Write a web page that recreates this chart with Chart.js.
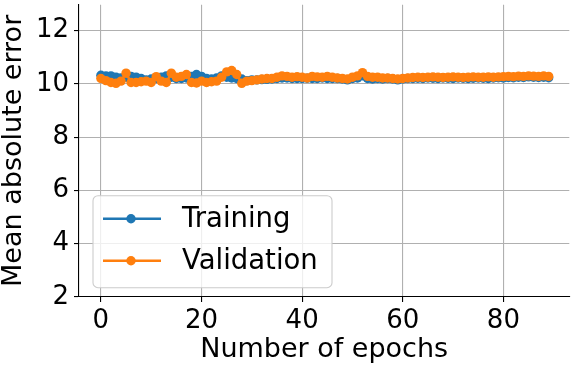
<!DOCTYPE html>
<html>
<head>
<meta charset="utf-8">
<script src="https://cdn.jsdelivr.net/npm/chart.js@4.4.0/dist/chart.umd.min.js"></script>
<style>
html,body{margin:0;padding:0;background:#fff;overflow:hidden;}
#wrap{width:574px;height:368px;position:relative;}
</style>
</head>
<body>
<div id="wrap"><canvas id="c" width="574" height="368"></canvas></div>
<script>
const epochs = Array.from({length: 90}, (_, i) => i);
const training = [
  10.32, 10.30, 10.30, 10.25, 10.22, 10.25, 10.28, 10.25, 10.20, 10.15,
  10.18, 10.20, 10.25, 10.30, 10.25, 10.20, 10.20, 10.22, 10.28, 10.35,
  10.28, 10.20, 10.18, 10.22, 10.30, 10.25, 10.22, 10.20, 10.18, 10.12,
  10.15, 10.15, 10.16, 10.17, 10.18, 10.20, 10.22, 10.22, 10.20, 10.20,
  10.20, 10.21, 10.20, 10.20, 10.22, 10.20, 10.20, 10.20, 10.18, 10.15,
  10.20, 10.22, 10.30, 10.20, 10.18, 10.20, 10.18, 10.20, 10.18, 10.15,
  10.18, 10.20, 10.20, 10.21, 10.20, 10.22, 10.21, 10.20, 10.22, 10.21,
  10.20, 10.22, 10.21, 10.20, 10.21, 10.22, 10.21, 10.20, 10.22, 10.23,
  10.22, 10.24, 10.23, 10.25, 10.24, 10.26, 10.25, 10.24, 10.25, 10.23
];
const validation = [
  10.20, 10.12, 10.05, 10.02, 10.10, 10.40, 10.05, 10.05, 10.08, 10.10,
  10.05, 10.27, 10.10, 10.05, 10.40, 10.25, 10.28, 10.35, 10.05, 10.03,
  10.10, 10.05, 10.08, 10.10, 10.25, 10.45, 10.50, 10.35, 10.02, 10.10,
  10.12, 10.15, 10.18, 10.20, 10.20, 10.25, 10.30, 10.28, 10.25, 10.27,
  10.25, 10.22, 10.28, 10.26, 10.25, 10.28, 10.25, 10.22, 10.20, 10.18,
  10.25, 10.30, 10.42, 10.28, 10.25, 10.25, 10.22, 10.22, 10.20, 10.18,
  10.20, 10.22, 10.24, 10.25, 10.24, 10.25, 10.26, 10.25, 10.24, 10.25,
  10.26, 10.25, 10.24, 10.25, 10.26, 10.25, 10.25, 10.26, 10.25, 10.26,
  10.27, 10.28, 10.27, 10.29, 10.28, 10.30, 10.29, 10.28, 10.30, 10.28
];
const xTicks = [0, 20, 40, 60, 80];
const yTicks = [2, 4, 6, 8, 10, 12];
const seriesNames = ['Training', 'Validation'];
const seriesColors = ['#1f77b4', '#ff7f0e'];

const FONT = 'DejaVu Sans';

const legendPlugin = {
  id: 'mplLegend',
  afterDraw(chart) {
    const ctx = chart.ctx;
    const a = chart.chartArea;
    const x0 = a.left + 14, y0 = a.top + 191, w = 239, h = 92, r = 5;
    ctx.save();
    ctx.beginPath();
    ctx.moveTo(x0 + r, y0);
    ctx.arcTo(x0 + w, y0, x0 + w, y0 + h, r);
    ctx.arcTo(x0 + w, y0 + h, x0, y0 + h, r);
    ctx.arcTo(x0, y0 + h, x0, y0, r);
    ctx.arcTo(x0, y0, x0 + w, y0, r);
    ctx.closePath();
    ctx.fillStyle = 'rgba(255,255,255,0.8)';
    ctx.fill();
    ctx.strokeStyle = '#cccccc';
    ctx.lineWidth = 1.1;
    ctx.stroke();
    chart.data.datasets.slice().sort((p, q) => p.legendIndex - q.legendIndex).forEach((ds, i) => {
      const cy = y0 + 23 + i * 42;
      ctx.strokeStyle = ds.borderColor;
      ctx.lineWidth = 2.6;
      ctx.beginPath();
      ctx.moveTo(x0 + 10, cy);
      ctx.lineTo(x0 + 68, cy);
      ctx.stroke();
      ctx.fillStyle = ds.borderColor;
      ctx.beginPath();
      ctx.arc(x0 + 38, cy, 4.7, 0, Math.PI * 2);
      ctx.fill();
      ctx.fillStyle = '#000';
      ctx.font = '27.5px "' + FONT + '"';
      ctx.textBaseline = 'middle';
      ctx.textAlign = 'left';
      ctx.fillText(ds.label, x0 + 89, cy + 1);
    });
    ctx.restore();
  }
};

new Chart(document.getElementById('c'), {
  type: 'line',
  data: {
    labels: epochs,
    datasets: [
      {
        label: seriesNames[0], legendIndex: 0, order: 1,
        data: epochs.map((e, i) => ({x: e, y: training[i]})),
        borderColor: seriesColors[0], backgroundColor: seriesColors[0],
        borderWidth: 2.6, pointRadius: 4.7, pointBorderWidth: 0, pointHoverRadius: 4.7,
        tension: 0, fill: false
      },
      {
        label: seriesNames[1], legendIndex: 1, order: 0,
        data: epochs.map((e, i) => ({x: e, y: validation[i]})),
        borderColor: seriesColors[1], backgroundColor: seriesColors[1],
        borderWidth: 2.6, pointRadius: 4.7, pointBorderWidth: 0, pointHoverRadius: 4.7,
        tension: 0, fill: false
      }
    ]
  },
  options: {
    responsive: false,
    animation: false,
    devicePixelRatio: 1,
    layout: {padding: 0},
    plugins: {legend: {display: false}, tooltip: {enabled: false}},
    scales: {
      x: {
        type: 'linear', min: -4.35, max: 93.1,
        afterBuildTicks: s => { s.ticks = xTicks.map(v => ({value: v})); },
        afterFit: s => { s.height = 71; s.paddingLeft = 0; s.paddingRight = 0; s.paddingTop = 0; s.paddingBottom = 0; },
        grid: {color: '#b0b0b0', lineWidth: 1.1, drawTicks: true, tickLength: 5, tickColor: '#000', tickWidth: 1.1},
        border: {display: true, color: '#000', width: 1.1},
        ticks: {color: '#000', font: {family: FONT, size: 26}, padding: 4, maxRotation: 0, autoSkip: false,
                callback: v => String(v)},
        title: {display: true, text: 'Number of epochs', color: '#000',
                font: {family: FONT, size: 27, lineHeight: 1}, padding: {top: 0, bottom: 5}}
      },
      y: {
        type: 'linear', min: 2, max: 12.97,
        afterBuildTicks: s => { s.ticks = yTicks.map(v => ({value: v})); },
        afterFit: s => { s.width = 79; s.paddingLeft = 0; s.paddingRight = 0; s.paddingTop = 0; s.paddingBottom = 0; },
        grid: {color: '#b0b0b0', lineWidth: 1.1, drawTicks: true, tickLength: 5, tickColor: '#000', tickWidth: 1.1},
        border: {display: true, color: '#000', width: 1.1},
        ticks: {color: '#000', font: {family: FONT, size: 26}, padding: 5, autoSkip: false,
                callback: v => String(v)},
        title: {display: true, text: 'Mean absolute error', color: '#000',
                font: {family: FONT, size: 27, lineHeight: 1}, padding: {top: 0, bottom: 0}}
      }
    }
  },
  plugins: [legendPlugin]
});
</script>
</body>
</html>
